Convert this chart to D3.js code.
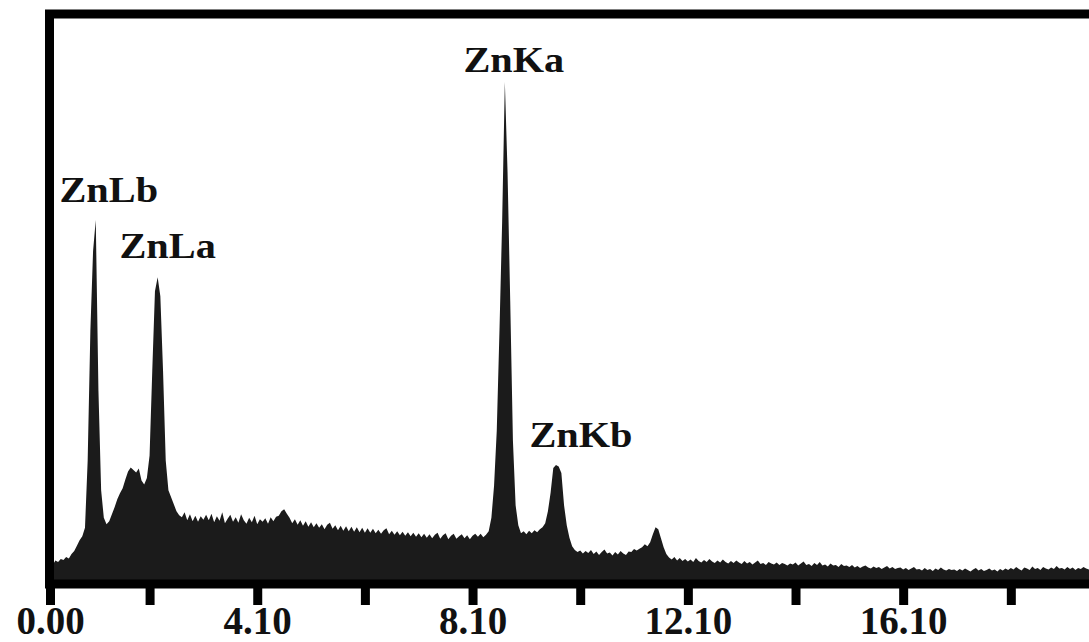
<!DOCTYPE html>
<html>
<head>
<meta charset="utf-8">
<script src="https://cdn.jsdelivr.net/npm/d3@7"></script>
<style>
  html, body { margin: 0; padding: 0; background: #fff; }
  svg { display: block; }
</style>
</head>
<body>
<svg width="1089" height="642"></svg>
<script>
// channel axis of the spectrum (keV)
const energyStart = 0.25;
const energyStep = 0.05;

// counts per channel (relative, ZnKa = 100)
const counts = [
  2.6, 3.0, 3.9, 3.6, 4.2, 4.0, 4.6, 4.3, 5.2, 5.8, 6.9, 8.0, 8.8, 10.5, 24, 50, 66, 72.3, 38, 18,
  12.5, 11.2, 11.8, 13.2, 14.6, 16.2, 17.4, 18.4, 20.2, 21.8, 22.6, 22.1, 21.6, 22.4, 20.0, 19.2, 20.5, 25, 42, 58,
  60.8, 57, 42, 24, 18, 16.6, 15.2, 13.8, 13.0, 12.6, 13.6, 12.0, 13.2, 11.8, 12.9, 11.7, 12.8, 12.1, 13.1, 12.0,
  13.3, 11.6, 12.8, 11.9, 13.6, 11.4, 12.3, 13.1, 11.7, 12.6, 11.5, 13.2, 12.0, 11.3, 12.5, 11.6, 12.9, 11.2, 12.2, 11.7,
  12.4, 11.3, 12.6, 11.8, 12.7, 12.9, 13.8, 14.2, 13.3, 12.5, 11.4, 12.2, 11.1, 12.0, 10.9, 11.8, 10.7, 11.6, 10.6, 11.4,
  10.5, 11.2, 10.2, 11.1, 11.5, 10.3, 11.0, 10.0, 10.9, 9.9, 10.8, 9.8, 10.7, 9.7, 10.6, 9.6, 10.5, 9.5, 10.4, 9.5,
  10.3, 9.4, 10.1, 9.3, 10.0, 10.4, 9.2, 9.9, 9.1, 9.8, 9.0, 9.7, 8.9, 9.6, 8.8, 9.5, 8.7, 9.4, 8.6, 9.3,
  8.5, 9.2, 8.4, 9.1, 9.5, 8.3, 9.0, 9.4, 8.2, 8.9, 9.3, 8.3, 8.8, 9.2, 8.4, 9.0, 8.2, 8.9, 9.3, 8.7,
  9.3, 8.6, 9.1, 9.8, 12.5, 19, 30, 50, 72, 100, 82, 56, 28, 15, 11, 9.4, 9.8, 9.2, 9.9, 9.4,
  10.0, 9.6, 10.2, 10.6, 11.4, 13.8, 17.5, 22.5, 23.1, 22.8, 21.5, 15, 11, 8.5, 6.8, 6.0, 5.6, 5.9, 5.3, 5.8,
  5.4, 6.0, 5.2, 5.7, 5.0, 5.6, 6.1, 5.3, 5.5, 4.9, 5.6, 5.1, 5.8, 5.3, 5.0, 5.7, 5.6, 6.2, 5.9, 6.3,
  6.6, 7.2, 6.8, 7.6, 9.2, 10.6, 10.2, 8.4, 6.6, 5.2, 4.5, 4.1, 4.6, 3.9, 4.4, 3.8, 4.2, 3.7, 4.1, 3.6,
  4.4, 3.8, 3.5, 4.0, 3.6, 4.2, 3.7, 3.4, 3.9, 3.5, 4.1, 3.6, 3.3, 3.8, 3.4, 3.9, 3.5, 3.2, 3.8, 3.3,
  3.6, 3.1, 3.5, 3.9, 3.2, 3.4, 3.0, 3.6, 3.3, 3.1, 3.5, 3.0, 3.4, 3.2, 2.9, 3.3, 3.1, 3.5, 2.9, 3.3,
  3.7, 3.0, 3.2, 2.8, 3.4, 3.0, 3.6, 2.9, 3.1, 2.7, 3.3, 2.9, 3.0, 2.6, 3.2, 2.8, 2.9, 2.6, 3.0, 2.5,
  2.8, 2.4, 2.7, 2.9, 2.5, 2.3, 2.7, 2.4, 2.6, 2.2, 2.5, 2.8, 2.3, 2.6, 2.2, 2.4, 2.5, 2.1, 2.4, 2.0,
  2.3, 2.6, 2.1, 2.2, 1.9, 2.4, 2.0, 2.2, 1.8, 2.3, 2.0, 2.5, 2.1, 1.9, 2.2, 2.0, 2.1, 1.8, 2.2, 1.9,
  2.3, 2.0, 1.7, 2.1, 2.4, 1.9, 2.2, 1.8, 2.0, 2.3, 1.9, 2.1, 1.7, 2.2, 1.9, 2.3, 2.0, 2.4, 2.1, 2.6,
  2.2, 1.9, 2.5, 2.3, 2.0, 2.7, 2.2, 2.4, 2.0, 2.6, 2.3, 2.1, 2.5, 2.2, 2.8, 2.3, 2.4, 2.1, 2.6, 2.2,
  2.5, 2.0, 2.4, 2.2, 2.6, 2.3, 2.1, 2.5, 2.2, 2.4
];

// x axis ticks
const majorTicks = [0.25, 4.1, 8.1, 12.1, 16.1];
const majorLabels = ['0.00', '4.10', '8.10', '12.10', '16.10'];
const minorTicks = [2.1, 6.1, 10.1, 14.1, 18.1];

// peak annotations
const peakNames = ['ZnLb', 'ZnLa', 'ZnKa', 'ZnKb'];
const peakEnergies = [1.10, 2.25, 8.70, 9.65];
const peakCounts = [72.3, 60.8, 100, 23.1];
// label placement relative to the peak top (px)
const labelOffsets = [[13, -18], [10, -19], [9, -10], [25, -18]];

const svg = d3.select('svg');
const width = +svg.attr('width');

const x = d3.scaleLinear().domain([0.25, 20]).range([50, 1113.1]);
const y = d3.scaleLinear().domain([0, 100]).range([580, 82]);

const spectrum = counts.map((c, i) => ({ e: energyStart + i * energyStep, c }));

svg.append('defs').append('clipPath').attr('id', 'plot')
  .append('rect').attr('x', 50).attr('y', 18).attr('width', width - 50).attr('height', 562);

// spectrum area
const area = d3.area()
  .x(d => x(d.e))
  .y0(y(0))
  .y1(d => y(d.c));

svg.append('path')
  .datum(spectrum)
  .attr('clip-path', 'url(#plot)')
  .attr('fill', '#1b1b1b')
  .attr('d', area);

// frame
svg.append('rect')
  .attr('x', 49.5).attr('y', 14)
  .attr('width', 1100).attr('height', 570)
  .attr('fill', 'none')
  .attr('stroke', '#000')
  .attr('stroke-width', 9);

// axes (ticks hang below the frame)
const font = '"Liberation Serif", "Times New Roman", serif';

const axisMajor = d3.axisBottom(x)
  .tickValues(majorTicks)
  .tickFormat((d, i) => majorLabels[i])
  .tickSize(17)
  .tickPadding(1);

const gMajor = svg.append('g')
  .attr('transform', 'translate(0,588)')
  .call(axisMajor);
gMajor.select('.domain').remove();
gMajor.selectAll('.tick line').attr('stroke', '#000').attr('stroke-width', 9);
gMajor.selectAll('.tick text')
  .attr('fill', '#111')
  .style('font-family', font)
  .style('font-weight', 'bold')
  .style('font-size', '39px');

const axisMinor = d3.axisBottom(x)
  .tickValues(minorTicks)
  .tickFormat('')
  .tickSize(17);

const gMinor = svg.append('g')
  .attr('transform', 'translate(0,588)')
  .call(axisMinor);
gMinor.select('.domain').remove();
gMinor.selectAll('.tick line').attr('stroke', '#000').attr('stroke-width', 9);

// peak labels
svg.append('g')
  .selectAll('text')
  .data(peakNames)
  .join('text')
    .attr('transform', (d, i) =>
      `translate(${x(peakEnergies[i]) + labelOffsets[i][0]},${y(peakCounts[i]) + labelOffsets[i][1]}) scale(1.12,1)`)
    .attr('text-anchor', 'middle')
    .attr('fill', '#111')
    .style('font-family', font)
    .style('font-weight', 'bold')
    .style('font-size', '36px')
    .text(d => d);
</script>
</body>
</html>
